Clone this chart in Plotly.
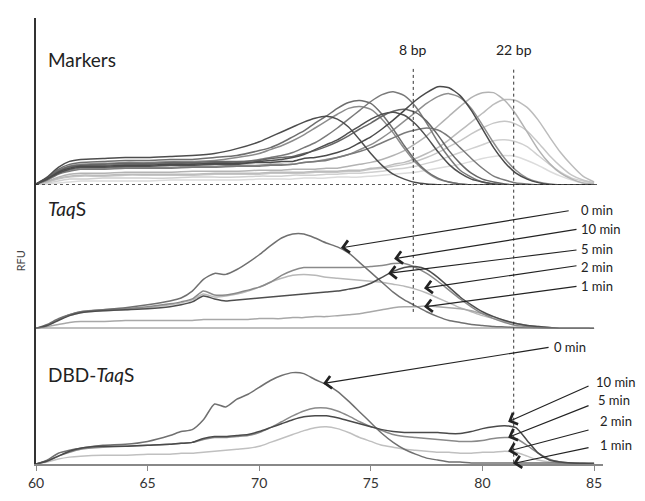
import plotly.graph_objects as go

# ---------------- data ----------------
# temperature grids (deg C)
X_M = [60, 60.5, 61, 61.5, 62, 63, 64, 65, 66, 67, 68, 69, 70,
       70.5, 71, 71.5, 72, 72.5, 73, 73.5, 74, 74.5, 75, 75.5, 76, 76.5, 77, 77.5,
       78, 78.5, 79, 79.5, 80, 80.5, 81, 81.5, 82, 82.5, 83, 83.5, 84, 84.5, 85]
X_S = [60, 60.5, 61, 61.5, 62, 63, 64, 65,
       66, 66.5, 67, 67.5, 68, 68.5, 69, 69.5, 70, 70.5, 71, 71.5, 72, 72.5, 73, 73.5,
       74, 74.5, 75, 75.5, 76, 76.5, 77, 77.5, 78, 78.5, 79, 79.5, 80, 80.5, 81, 81.5,
       82, 82.5, 83, 83.5, 84, 84.5, 85]

# Markers panel (RFU, arbitrary units)
M_A = [1,8,18,24,26, 27,28,28,29,30,32,37,44, 49,54,59,64,68,70,67,59,46,32,20,11,6,2.5,1,0.3, 0,0,0,0,0,0,0,0,0,0,0,0,0,0]
M_B = [1,7,16,21,23, 24,25,25,26,26,28,30,35, 38,43,49,55,63,70,78,84,86,83,72,57,40,25,14,7,3,1, 0,0,0,0,0,0,0,0,0,0,0,0]
M_C = [1,7,15,19,21, 22,23,23,24,24,25,28,32, 36,40,45,51,58,65,72,78,80,77,67,53,37,23,13,6,3,1, 0,0,0,0,0,0,0,0,0,0,0,0]
M_D = [1,6,14,18,20, 20,21,21,22,22,23,23,26, 28,30,33,38,43,50,58,67,76,85,92,95,91,80,63,44,28,15,8,3,1, 0,0,0,0,0,0,0,0,0]
M_E = [1,7,14,19,20, 21,22,22,23,23,24,24,25, 27,28,29,32,35,39,44,50,57,63,70,75,77,74,65,51,35,22,12,6,3,1, 0,0,0,0,0,0,0,0]
M_F = [1,6,12,16,18, 18,19,19,20,20,21,21,24, 25,26,28,31,36,41,46,53,60,67,72,74,71,62,49,34,21,12,6,3,1, 0,0,0,0,0,0,0,0,0]
M_G = [1,5,11,14,16, 16,17,17,17,18,18,19,19, 20,20,21,23,24,25,28,31,34,38,43,48,53,56,58,56,49,38,27,17,9,5,2,1, 0,0,0,0,0,0]
M_H = [1,6,13,17,19, 19,20,20,21,21,22,22,23, 23,24,24,27,28,30,33,37,43,49,57,66,76,86,94,100,99,91,76,57,38,23,12,6,2.4,0.6, 0,0,0,0]
M_I = [1,5,12,15,17, 17,18,18,18,19,19,20,20, 21,21,21,23,24,26,28,31,36,41,48,56,65,74,83,90,93,89,78,61,43,27,15,7,3,1, 0,0,0,0]
M_J = [1,4,8,11,12, 12,13,13,13,14,14,14,15, 15,15,16,16,16,17,17,19,21,23,26,30,35,42,50,60,70,80,89,94,94,86,72,54,36,22,12,6,2,1]
M_K = [1,3,7,9,10, 10,11,11,11,11,12,12,12, 13,13,13,13,14,14,14,15,15,17,18,21,23,27,32,38,46,55,64,73,82,87,86,79,66,49,33,20,9,3]
M_L = [1,3,6,8,9, 9,10,10,10,10,11,11,11, 12,12,12,12,13,13,13,14,14,16,17,19,21,24,28,33,39,45,52,58,63,65,62,55,43,30,19,10,5,2]
M_M = [0,2,4,6,6, 7,7,7,7,8,8,8,9, 9,9,10,10,10,11,11,12,12,13,14,16,17,19,22,25,29,33,37,41,45,46,44,39,30,21,13,7,4,2]
M_N = [0,1,2,3,4, 4,4,4,5,5,5,5,6, 6,6,6,7,7,7,8,8,8,9,10,11,12,13,15,17,19,21,24,27,29,30,29,25,20,14,9,5,2,1]

# TaqS panel
T_0 = [0,4,10,14,17, 19,21,24,
       28,31,38,50,56,55,60,67,75,84,92,96,96,92,87,83,77,67,57,47,37,29,23,17,12,8,6,4,3,2,1.5,1,0.5,0,0,0,0,0,0]
T_10 = [0,3,9,14,17, 19,20,22,
        25,27,30,38,34,34,36,39,42,47,54,59,62,62,62,62,62,62,63,64,66,66,62,56,48,39,30,22,15,10,6,3,2,1,0,0,0,0,0]
T_5 = [0,3,8,13,16, 18,19,20,
       22,24,27,33,30,28,29,30,31,32,33,34,35,36,37,38,40,42,46,52,58,62,63,60,52,42,32,24,17,12,8,5,3,2,1,0,0,0,0]
T_2 = [0,3,9,13,16, 18,19,21,
       24,26,29,35,32,33,35,38,42,47,51,54,55,54,52,51,50,49,48,47,45,43,40,36,31,26,21,17,13,10,7,5,3,2,1,0,0,0,0]
T_1 = [0,2,4,6,7, 7,8,8,
       8,8,8,9,9,9,9,9,10,10,10,11,11,12,12,13,14,15,17,19,21,22,22,23,22,21,20,18,15,12,8,5,3,1,0,0,0,0,0]

# DBD-TaqS panel
D_0 = [0,4,11,14,16, 19,20,23,
       29,33,35,45,61,58,66,71,78,85,90,93,92,86,81,74,64,53,42,31,22,15,10,6,4,2,2,1,1,1,1,1,1,1,1,1,1,1,1]
D_P = [0,3,8,12,15, 17,18,19,
       20,21,22,25,27,27,28,29,32,37,43,49,54,57,57,54,49,43,38,34,30,28,27,26,25,24,23,23,24,26,27,26,19,11,5,2,1,0.5,0]
D_Q = [0,3,8,13,16, 18,18,19,
       20,21,22,26,28,28,29,30,33,37,41,45,48,49,49,47,44,41,38,35,33,32,32,32,32,31,31,33,36,38,39,37,24,11,4,2,1,0.5,0]
D_R = [0,2,5,7,8, 9,9,10,
       10,11,11,12,13,14,15,16,18,22,26,30,34,37,38,36,32,27,23,19,17,15,14,13,12,12,11,11,12,12,13,12,8,4,2,1,0,0,0]

X_TICKS = [60, 65, 70, 75, 80, 85]
TIME_LABELS = ["0 min", "10 min", "5 min", "2 min", "1 min"]
MARKER_LINES = {"8 bp": 76.9, "22 bp": 81.4}

# ---------------- figure ----------------
FONT = "Lato, 'Open Sans', sans-serif"
fig = go.Figure()

def line(x, y, axis, color, width=1.5):
    fig.add_trace(go.Scatter(x=x, y=y, yaxis=axis, mode="lines",
                             line=dict(color=color, width=width, shape="spline", smoothing=0.6),
                             showlegend=False, hoverinfo="skip"))

marker_series = [
    (M_N, "#dcdcdc"), (M_M, "#d0d0d0"), (M_L, "#c6c6c6"), (M_K, "#bcbcbc"), (M_J, "#b3b3b3"),
    (M_I, "#8f8f8f"), (M_C, "#8c8c8c"), (M_G, "#7a7a7a"), (M_D, "#7a7a7a"), (M_B, "#6e6e6e"),
    (M_E, "#666666"), (M_F, "#505050"), (M_A, "#4d4d4d"), (M_H, "#4a4a4a"),
]
for ys, c in marker_series:
    line(X_M, ys, "y3", c)

for ys, c in [(T_2, "#b8b8b8"), (T_1, "#a8a8a8"), (T_10, "#8a8a8a"), (T_0, "#707070"), (T_5, "#4e4e4e")]:
    line(X_S, ys, "y2", c)

for ys, c in [(D_R, "#c0c0c0"), (D_P, "#8a8a8a"), (D_0, "#707070"), (D_Q, "#4a4a4a")]:
    line(X_S, ys, "y", c)

shapes = []
shapes.append(dict(type="line", xref="x", yref="y3", x0=60, x1=85.2, y0=0, y1=0,
                   line=dict(color="#222", width=1.6, dash="dot")))
shapes.append(dict(type="line", xref="x", yref="y2", x0=60, x1=84.8, y0=0, y1=0,
                   line=dict(color="#808080", width=1.6)))
shapes.append(dict(type="line", xref="x", yref="paper", x0=MARKER_LINES["8 bp"], x1=MARKER_LINES["8 bp"],
                   y0=0.341, y1=0.89, line=dict(color="#333", width=1, dash="dot")))
shapes.append(dict(type="line", xref="x", yref="paper", x0=MARKER_LINES["22 bp"], x1=MARKER_LINES["22 bp"],
                   y0=0.003, y1=0.89, line=dict(color="#333", width=1, dash="dot")))

ann = []
def text(x, y, yref, s, size=14, xanchor="left"):
    ann.append(dict(x=x, y=y, xref="x", yref=yref, text=s, showarrow=False, xanchor=xanchor,
                    yanchor="middle", borderpad=0, font=dict(family=FONT, size=size, color="#222")))

def arrow(x, y, ax, ay, yref):
    ann.append(dict(x=x, y=y, xref="x", yref=yref, ax=ax, ay=ay, axref="x", ayref=yref,
                    text="", showarrow=True, arrowhead=4, arrowsize=2.0, arrowwidth=1.2,
                    arrowcolor="#222", standoff=0))

text(60.5, 128, "y3", "Markers", size=19)
text(60.5, 122, "y2", "<i>Taq</i>S", size=19)
text(60.5, 91, "y", "DBD-<i>Taq</i>S", size=19)
text(MARKER_LINES["8 bp"], 138, "y3", "8 bp", size=14, xanchor="center")
text(MARKER_LINES["22 bp"], 138, "y3", "22 bp", size=14, xanchor="center")

# TaqS arrows
taq_tips = [(73.66, 82), (76.04, 71), (75.77, 56), (77.38, 41), (77.38, 22)]
taq_tails = [(83.93, 120), (84.28, 101), (84.28, 80), (84.28, 64), (84.28, 43)]
taq_text_y = [121, 101, 81, 63, 43]
for lab, (tx, ty), (ax, ay), yy in zip(TIME_LABELS, taq_tips, taq_tails, taq_text_y):
    arrow(tx, ty, ax, ay, "y2")
    text(84.35, yy, "y2", lab, size=13)

# DBD arrows
dbd_tips = [(72.86, 82), (81.15, 43), (81.15, 27), (81.15, 13), (81.37, 0.5)]
dbd_tails = [(83.03, 119), (84.82, 80), (84.82, 60), (84.82, 35), (84.82, 17)]
dbd_text_xy = [(83.15, 119), (85.05, 83), (85.15, 65), (85.2, 44), (85.2, 19)]
for lab, (tx, ty), (ax, ay), (lx, ly) in zip(TIME_LABELS, dbd_tips, dbd_tails, dbd_text_xy):
    arrow(tx, ty, ax, ay, "y")
    text(lx, ly, "y", lab, size=13)

ann.append(dict(x=-0.042, y=0.456, xref="paper", yref="paper", text="RFU", showarrow=False,
                textangle=-90, font=dict(family=FONT, size=11, color="#444")))

yax = dict(showline=True, linecolor="#333", linewidth=1.5, showgrid=False, zeroline=False,
           showticklabels=False, ticks="", anchor="x")

# page body has an 8px margin: size the figure so that it fills the 645x501 window
fig.update_layout(
    width=637, height=493,
    margin=dict(l=28, r=42, t=10, b=29),
    paper_bgcolor="white", plot_bgcolor="white",
    xaxis=dict(range=[60, 85.4], tickvals=X_TICKS, showline=True, linecolor="#888", linewidth=1.6,
               ticks="outside", ticklen=5, tickcolor="#888", showgrid=False, zeroline=False,
               tickfont=dict(family=FONT, size=14, color="#333"), anchor="y"),
    yaxis=dict(domain=[0, 0.304], range=[0, 138], **yax),
    yaxis2=dict(domain=[0.304, 0.6256], range=[0, 146], **yax),
    yaxis3=dict(domain=[0.6256, 1], range=[0, 170], **yax),
    shapes=shapes, annotations=ann,
)

fig.write_html("out.html")
